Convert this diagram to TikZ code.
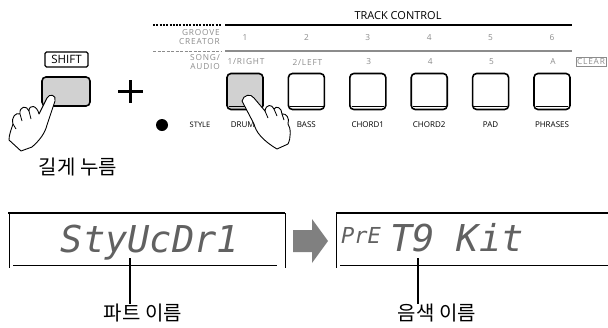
\documentclass[tikz,border=0pt]{standalone}
\usepackage{fontspec}
\setmainfont{Open Sans}
\newfontfamily\panelfont[LetterSpace=10]{Open Sans}
\newfontfamily\krfont{Noto Sans CJK KR}
\newfontfamily\lcdfont{DejaVu Sans Mono}
\definecolor{keygray}{gray}{0.82}
\definecolor{labgray}{gray}{0.55}
\definecolor{arrowgray}{gray}{0.5}

\begin{document}
\begin{tikzpicture}[x=1pt,y=-1pt,
    key/.style={draw,line width=1.6pt,rounded corners=4pt,minimum width=36pt,minimum height=36pt,inner sep=0pt},
    small/.style={font=\panelfont\fontsize{8.3}{9}\selectfont,text=labgray,inner sep=0pt},
    keylab/.style={font=\fontsize{8}{8}\selectfont,inner sep=0pt},
    hand/.style={fill=white,draw,line width=0.9pt,line join=round},
    lcd/.style={font=\lcdfont\itshape\fontsize{37}{37}\selectfont,text=black!62,inner sep=0pt,anchor=base},
    ko/.style={font=\krfont\fontsize{20}{20}\selectfont,inner sep=0pt}]
    \def \dx {61.4}  % distance between the track keys
    \useasboundingbox (0,0) rectangle (608,327);

    % header with the two rules
    \draw[line width=1.4pt,dash pattern=on 2pt off 1.3pt] (153,25) -- (222,25);
    \draw[line width=1.6pt] (225,25) -- (572,25);
    \draw[labgray,line width=1pt,dash pattern=on 3pt off 1.5pt] (153,51) -- (222,51);
    \draw[labgray,line width=1.2pt] (225,51) -- (572,51);
    \node[font=\fontsize{11}{11}\selectfont,inner sep=0pt] (track) at (398,15.5) {TRACK CONTROL};
    \node[small,align=right,anchor=east] (groove) at (220,37.5) {GROOVE\\CREATOR};
    \node[small,align=right,anchor=east] (song) at (220,62) {SONG/\\AUDIO};

    % track keys
    \foreach \i/\num/\song/\name/\col in {1/1/{1/RIGHT}/DRUMS/keygray, 2/2/{2/LEFT}/BASS/white,
        3/3/3/CHORD1/white, 4/4/4/CHORD2/white, 5/5/5/PAD/white, 6/6/A/PHRASES/white}
    {
      \node[key,fill=\col] (b\i) at ({245+\dx*(\i-1)},91.5) {};
      \draw[line width=0.8pt] ([xshift=2.5pt,yshift=4pt]b\i.south west) -- ([xshift=-2.5pt,yshift=4pt]b\i.south east);
      \node[small] (n\i) at ({245+\dx*(\i-1)},37.5) {\num};
      \node[small] (s\i) at ({246+\dx*(\i-1)},62) {\song};
      \node[keylab] (c\i) at ({245+\dx*(\i-1)},125) {\name};
    }
    \node[small,draw=labgray,line width=0.6pt,inner xsep=1.2pt,inner ysep=1.2pt] (clear) at (591,62) {CLEAR};

    % style lamp
    \fill (162,125) circle (6);
    \node[keylab,font=\fontsize{7.5}{7.5}\selectfont] (style) at (200,125) {STYLE};

    % shift key and plus
    \node[draw,line width=1.1pt,rounded corners=1.5pt,font=\fontsize{11.5}{11.5}\selectfont,
      minimum width=43pt,minimum height=15pt,inner sep=0pt] (shiftlab) at (66.5,59.5) {SHIFT};
    \node[key,fill=keygray,minimum width=48pt,minimum height=29pt] (shift) at (66,91.5) {};
    \draw[line width=2.2pt] (118,91.5) -- (143,91.5) (130.5,80) -- (130.5,103);
    \node[ko] (hold) at (78,167) {길게 누름};

    % hand on shift
    \draw[hand] (47,125) -- (55,101) .. controls (57,95) and (49,93) .. (47,98)
      -- (39,114) .. controls (37,105) and (29,104) .. (29,111)
      .. controls (27,105) and (19,106) .. (20,114)
      .. controls (16,112) and (11,117) .. (13,124)
      .. controls (11,130) and (9,135) .. (9,140)
      -- (21,151) -- (32,147)
      .. controls (40,140) and (45,133) .. (47,125) -- cycle;
    \draw[line width=0.8pt] (29,111) -- (31,119) (20,114) -- (22,121) (13,124) -- (16,129);

    % hand on the first track key
    \draw[hand] (242,101) -- (254,124) .. controls (256,132) and (262,140) .. (277,149)
      -- (288,144) .. controls (291,138) and (291,128) .. (288,124)
      .. controls (290,118) and (286,113) .. (282,114)
      .. controls (282,108) and (276,105) .. (274,109)
      .. controls (272,104) and (266,104) .. (265,111)
      -- (254,98) .. controls (251,93) and (243,95) .. (242,101) -- cycle;
    \draw[line width=0.8pt] (265,111) -- (268,118) (274,109) -- (277,116) (282,114) -- (284,120);

    % first display
    \draw[line width=1.3pt] (8,213) -- (285,213);
    \draw[line width=1pt] (9.5,213) -- (9.5,268) (285,213) -- (285,268);
    \draw[line width=0.7pt] (13,265) -- (277,265);
    \node[lcd] (part) at (150,252) {StyUcDr1};

    % arrow between the displays
    \fill[arrowgray] (293,230) -- (312,230) -- (312,219) -- (328,241) -- (312,263) -- (312,252) -- (293,252) -- cycle;

    % second display
    \draw[line width=1.3pt] (336,213) -- (608,213);
    \draw[line width=1pt] (336,213) -- (336,268);
    \draw[line width=0.7pt] (340,265) -- (608,265);
    \node[lcd,font=\lcdfont\itshape\fontsize{22}{22}\selectfont] (pre) at (361,243) {PrE};
    \node[lcd] (voice) at (457,251) {T9 Kit};

    % name callouts
    \coordinate (p1) at (130,258);
    \coordinate (p2) at (418,258);
    \node[ko] (lab1) at (143,313) {파트 이름};
    \node[ko] (lab2) at (437,313) {음색 이름};
    \draw[line width=1.4pt] (p1) -- (p1 |- lab1.north);
    \draw[line width=1.4pt] (p2) -- (p2 |- lab2.north);
\end{tikzpicture}
\end{document}
